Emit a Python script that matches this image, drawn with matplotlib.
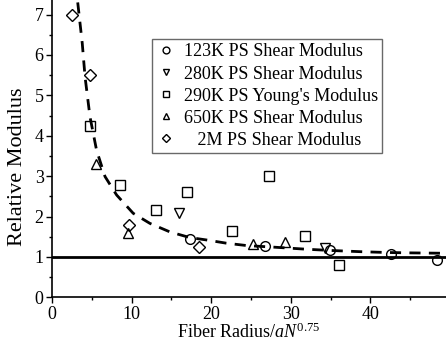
import matplotlib
matplotlib.use('Agg')
import matplotlib.pyplot as plt

plt.rcParams['font.family'] = ['Liberation Serif', 'DejaVu Serif']
plt.rcParams['mathtext.fontset'] = 'custom'
plt.rcParams['mathtext.rm'] = 'Liberation Serif'
plt.rcParams['mathtext.it'] = 'Liberation Serif:italic'

# data
x_123k = [17.3, 26.8, 34.9, 42.6, 48.4]
y_123k = [1.44, 1.28, 1.16, 1.08, 0.92]

x_280k = [15.9, 34.25]
y_280k = [2.09, 1.21]

x_290k = [4.8, 8.6, 13.1, 17.0, 22.6, 27.3, 31.8, 36.1]
y_290k = [4.25, 2.77, 2.16, 2.6, 1.65, 3.0, 1.52, 0.81]

x_650k = [5.5, 9.5, 25.25, 29.25]
y_650k = [3.3, 1.6, 1.31, 1.37]

x_2m = [2.45, 4.8, 9.7, 18.5]
y_2m = [7.0, 5.5, 1.8, 1.24]

# dashed guide curve
x_fit = [3.23, 3.8, 4.15, 4.77, 5.6, 6.66, 7.9, 8.13, 10.2, 12.3, 14.8, 17.3,
         19.4, 21.9, 24.5, 28.0, 32.0, 35.0, 38.7, 42.0, 45.0, 49.5]
y_fit = [7.3, 6.29, 5.46, 4.47, 3.64, 2.99, 2.6, 2.53, 2.08, 1.83, 1.62, 1.48,
         1.42, 1.34, 1.28, 1.24, 1.19, 1.16, 1.13, 1.11, 1.10, 1.09]

fig = plt.figure(figsize=(4.46, 3.43), dpi=100)
ax = fig.add_axes([0.1166, 0.1332, 0.8834, 0.8668])

ax.axhline(1, color='black', lw=2)
ax.plot(x_fit, y_fit, 'k--', lw=2, dashes=(4, 3))

mk = dict(ls='none', mfc='none', mec='black', ms=7, mew=1)
ax.plot(x_123k, y_123k, marker='o', label='123K PS Shear Modulus', **mk)
ax.plot(x_280k, y_280k, marker='v', label='280K PS Shear Modulus', **mk)
ax.plot(x_290k, y_290k, marker='s', label="290K PS Young's Modulus", **mk)
ax.plot(x_650k, y_650k, marker='^', label='650K PS Shear Modulus', **mk)
ax.plot(x_2m, y_2m, marker='D', label='   2M PS Shear Modulus',
        **dict(mk, ms=6))

ax.set_xlim(0, 49.5)
ax.set_ylim(0, 7.36)
ax.set_xticks([0, 10, 20, 30, 40])
ax.set_xticks([5, 15, 25, 35, 45], minor=True)
ax.set_yticks(range(8))
ax.set_yticks([0.5 + i for i in range(7)], minor=True)
ax.tick_params(direction='out', labelsize=13, width=1, length=4, pad=2)
ax.tick_params(which='minor', direction='out', width=1, length=2.5)
ax.spines['top'].set_visible(False)
ax.spines['right'].set_visible(False)
ax.spines['left'].set_linewidth(1.2)
ax.spines['bottom'].set_linewidth(1.2)

ax.set_xlabel('Fiber Radius/$\\mathit{aN}^{0.75}$', fontsize=13, labelpad=0)
ax.set_ylabel('Relative Modulus', fontsize=16)
ax.yaxis.set_label_coords(-0.064, 0.44)

leg = ax.legend(loc='upper left', bbox_to_anchor=(0.254, 0.869),
                fontsize=13, frameon=True, fancybox=False,
                edgecolor='#444444', markerscale=0.7,
                handlelength=1, handletextpad=0.5, labelspacing=0.28,
                borderpad=0.25, borderaxespad=0)
leg.get_frame().set_linewidth(1)

fig.savefig('out.png', dpi=100)
